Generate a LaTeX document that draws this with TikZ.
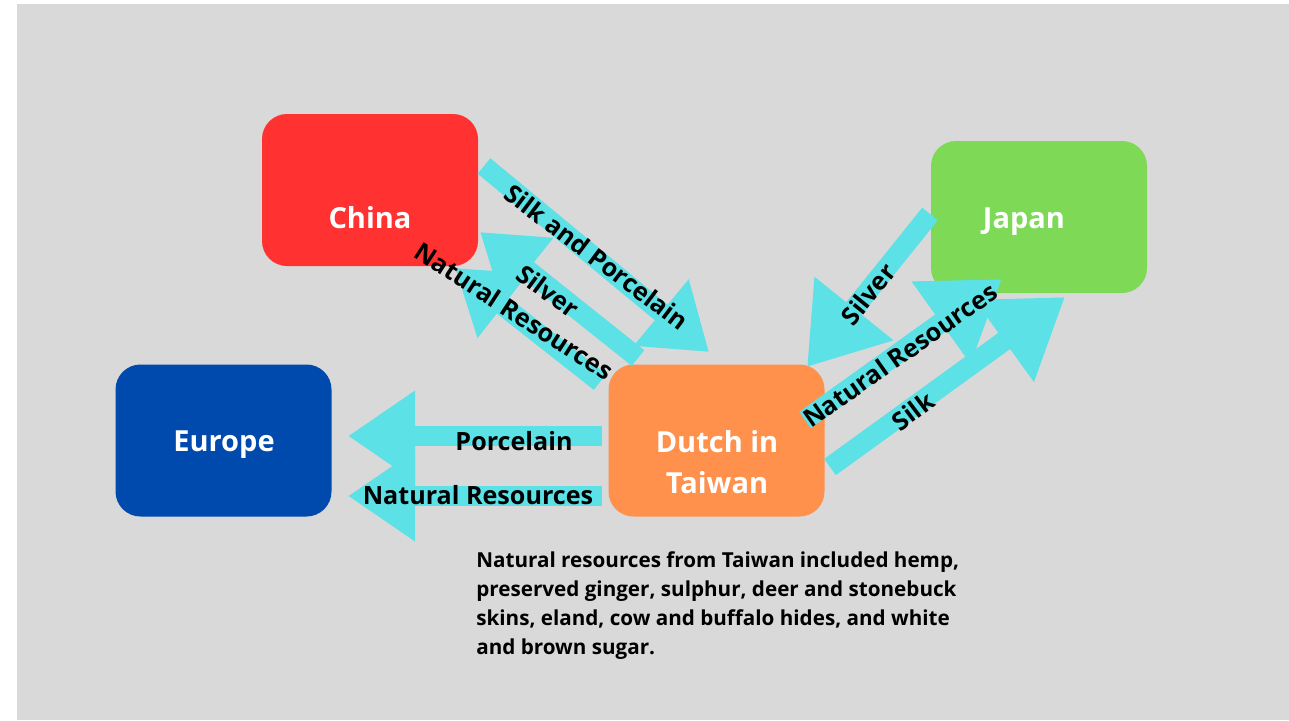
\documentclass[tikz,border=0pt]{standalone}
\usepackage{fontspec}
\setmainfont{Open Sans}
\usetikzlibrary{arrows.meta}

\definecolor{bggray}{HTML}{D9D9D9}
\definecolor{chinared}{HTML}{FF3131}
\definecolor{japangreen}{HTML}{7ED957}
\definecolor{europeblue}{HTML}{004AAD}
\definecolor{dutchorange}{HTML}{FF914D}
\definecolor{tradecyan}{HTML}{5CE1E6}

\tikzset{
  place/.style={rounded corners=0.5cm, minimum width=4.32cm, minimum height=3.04cm, inner sep=0pt},
  placetext/.style={text=white, font=\bfseries\fontsize{16.5}{23.3}\selectfont, align=center},
  trade/.style 2 args={draw=tradecyan, line width=0.4cm, -{Triangle[length=#1,width=#2]}},
  goods/.style={font=\bfseries\fontsize{14.3}{16}\selectfont, inner sep=0pt},
}

\begin{document}
\begin{tikzpicture}
		\useasboundingbox (0,0) rectangle (25.78,-14.4);
		\fill[white] (0,0) rectangle (25.78,-14.4);
		\fill[bggray] (0.34,-0.08) rectangle (25.78,-14.4);

		\draw (7.4,-3.8) node[place, fill=chinared] (china) {};
		\draw (7.4,-4.36) node[placetext] {China};
		\draw (20.78,-4.34) node[place, fill=japangreen] (japan) {};
		\draw (20.48,-4.44) node[placetext] {Japan};
		\draw (4.47,-8.81) node[place, fill=europeblue] (europe) {};
		\draw (4.48,-8.9) node[placetext] {Europe};
		\draw (14.33,-8.81) node[place, fill=dutchorange] (dutch) {};
		\draw (14.34,-9.24) node[placetext] {Dutch in\\Taiwan};

		\coordinate (china-out) at (9.68,-3.32);
		\coordinate (china-in1) at (9.6,-4.64);
		\coordinate (china-in2) at (9.1,-5.36);
		\coordinate (japan-out) at (18.6,-4.28);
		\coordinate (japan-in1) at (20.04,-5.58);
		\coordinate (japan-in2) at (21.3,-5.94);
		\coordinate (europe-in1) at (6.96,-8.72);
		\coordinate (europe-in2) at (6.96,-9.92);
		\coordinate (dutch-in) at (16.14,-7.34);
		\coordinate (dutch-out1) at (14.18,-7.04);
		\coordinate (dutch-silver) at (12.76,-7.16);
		\coordinate (dutch-res) at (12.0,-7.64);
		\coordinate (dutch-jres) at (16.1,-8.4);
		\coordinate (dutch-silk) at (16.6,-9.34);
		\coordinate (dutch-porc) at (12.04,-8.72);
		\coordinate (dutch-eres) at (12.04,-9.92);

		\draw[trade={1.24cm}{1.64cm}] (china-out) -- (dutch-out1);
		\draw[trade={1.22cm}{1.56cm}] (dutch-silver) -- (china-in1);
		\draw[trade={1.22cm}{1.56cm}] (dutch-res) -- (china-in2);
		\draw[trade={1.5cm}{1.92cm}] (japan-out) -- (dutch-in);
		\draw[trade={1.5cm}{1.92cm}] (dutch-jres) -- (japan-in1);
		\draw[trade={1.5cm}{1.92cm}] (dutch-silk) -- (japan-in2);
		\draw[trade={1.34cm}{1.72cm}] (dutch-porc) -- (europe-in1);
		\draw[trade={1.34cm}{1.72cm}] (dutch-eres) -- (europe-in2);

		\draw (11.94,-5.14) node[goods, rotate=-37] {Silk and Porcelain};
		\draw (10.96,-5.82) node[goods, rotate=-36] {Silver};
		\draw (10.28,-6.22) node[goods, rotate=-33] {Natural Resources};
		\draw (17.36,-5.88) node[goods, rotate=51] {Silver};
		\draw (18.0,-7.1) node[goods, rotate=35] {Natural Resources};
		\draw (18.26,-8.22) node[goods, rotate=37] {Silk};
		\draw (10.28,-8.82) node[goods] {Porcelain};
		\draw (9.56,-9.9) node[goods] {Natural Resources};

		\draw (9.52,-11.02) node[anchor=north west, align=left, inner sep=0pt, font=\bfseries\fontsize{11.75}{16.5}\selectfont] (note) {Natural resources from Taiwan included hemp,\\preserved ginger, sulphur, deer and stonebuck\\skins, eland, cow and buffalo hides, and white\\and brown sugar.};
	\end{tikzpicture}
\end{document}
